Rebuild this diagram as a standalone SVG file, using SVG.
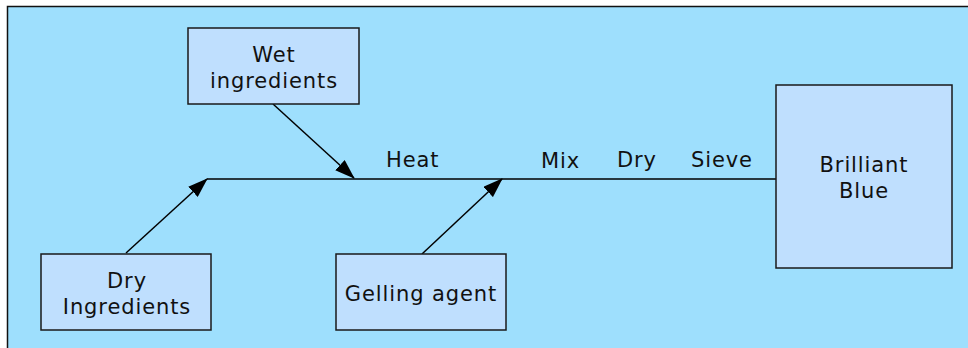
<svg xmlns="http://www.w3.org/2000/svg" width="968" height="348" viewBox="0 0 968 348">
<style>
.node{fill:#BFDFFE;stroke:#1a1a1a;stroke-width:1.5}
.t{font-family:"DejaVu Sans",Verdana,sans-serif;font-size:21px;letter-spacing:0.9px;fill:#111;text-anchor:middle}
.lbl{font-family:"DejaVu Sans",Verdana,sans-serif;font-size:21px;letter-spacing:0.9px;fill:#111}
.c{stroke:#000;stroke-width:1.5;fill:none}
</style>
<defs>
<marker id="ah" markerWidth="20" markerHeight="14" refX="19" refY="7" orient="auto" markerUnits="userSpaceOnUse">
<path d="M0,0 L20,7 L0,14 Z" fill="#000"/>
</marker>
</defs>
<rect x="7" y="6" width="970" height="350" fill="#9EDFFD"/>
<path d="M7.5,348 V6.5 H968" stroke="#111" stroke-width="1.5" fill="none"/>
<g id="connectors">
<line class="c" x1="207" y1="179" x2="776" y2="179"/>
<line class="c" x1="273" y1="104" x2="354" y2="178" marker-end="url(#ah)"/>
<line class="c" x1="126" y1="253" x2="207" y2="179" marker-end="url(#ah)"/>
<line class="c" x1="422" y1="254" x2="502" y2="179" marker-end="url(#ah)"/>
<text class="lbl" x="386" y="167">Heat</text>
<text class="lbl" x="541" y="168">Mix</text>
<text class="lbl" x="617" y="167">Dry</text>
<text class="lbl" x="691" y="167">Sieve</text>
</g>
<g id="wet">
<rect class="node" x="188" y="28" width="171" height="76"/>
<text class="t" x="274" y="62">Wet</text>
<text class="t" x="274" y="88">ingredients</text>
</g>
<g id="dry">
<rect class="node" x="41" y="254" width="170" height="76"/>
<text class="t" x="127" y="288">Dry</text>
<text class="t" x="127" y="314">Ingredients</text>
</g>
<g id="gelling">
<rect class="node" x="336" y="254" width="170" height="76"/>
<text class="t" x="421" y="301">Gelling agent</text>
</g>
<g id="brilliant">
<rect class="node" x="776" y="85" width="176" height="183"/>
<text class="t" x="864" y="172">Brilliant</text>
<text class="t" x="864" y="198">Blue</text>
</g>
</svg>
